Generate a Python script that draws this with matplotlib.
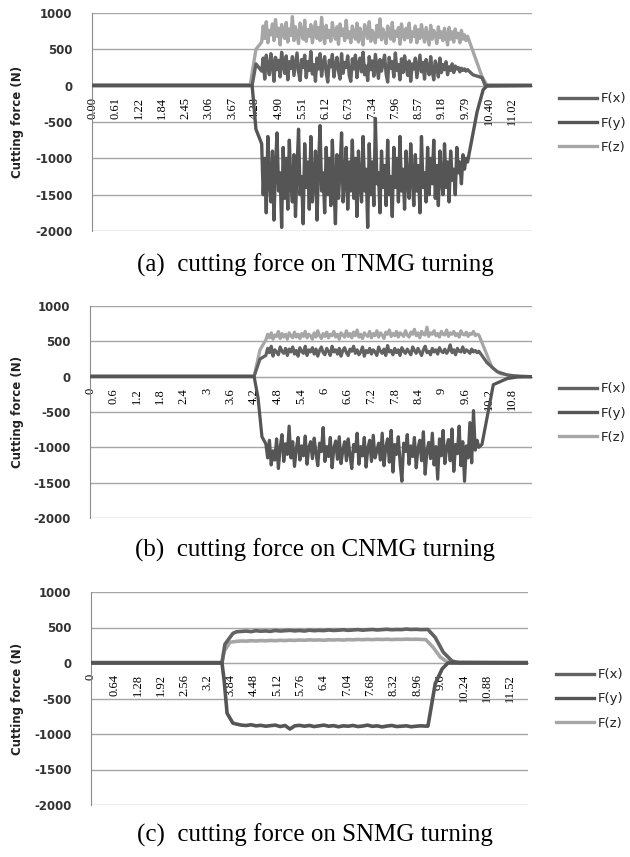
import matplotlib
matplotlib.use("Agg")
import matplotlib.pyplot as plt
import numpy as np

plt.rcParams["axes.unicode_minus"] = False

# ---- data (time in s, force in N) ----
labels_a = ["0.00", "0.61", "1.22", "1.84", "2.45", "3.06", "3.67", "4.28", "4.90", "5.51",
            "6.12", "6.73", "7.34", "7.96", "8.57", "9.18", "9.79", "10.40", "11.02"]
labels_b = ["0", "0.6", "1.2", "1.8", "2.4", "3", "3.6", "4.2", "4.8", "5.4",
            "6", "6.6", "7.2", "7.8", "8.4", "9", "9.6", "10.2", "10.8"]
labels_c = ["0", "0.64", "1.28", "1.92", "2.56", "3.2", "3.84", "4.48", "5.12", "5.76",
            "6.4", "7.04", "7.68", "8.32", "8.96", "9.6", "10.24", "10.88", "11.52"]

# panel (a) TNMG
a_block = (4.45, 9.85)
fx_a_pre_t, fx_a_pre = [0.0, 4.2, 4.3], [5, 5, 300]
fx_a = [200, 380, 90, 420, 260, 150, 440, 310, 60, 390, 220, 350, 120, 460, 280, 170, 410, 80, 330, 240,
        400, 140, 300, 450, 190, 70, 360, 250, 420, 110, 330, 210, 470, 160, 290, 60, 380, 230, 440, 130,
        310, 400, 180, 50, 350, 260, 430, 120, 280, 390, 200, 90, 440, 170, 320, 250, 410, 140, 60, 370,
        230, 420, 110, 300, 380, 190, 460, 150, 270, 70, 400, 220, 340, 130, 430, 260, 100, 360, 200, 310,
        420, 160, 50, 390, 240, 330, 120, 450, 210, 290, 80, 370, 180, 410, 260, 140, 340, 60, 300, 230,
        380, 110, 270, 420, 190, 320, 90, 360, 240, 150, 400, 200, 80, 340, 260, 120, 380, 180, 290, 220,
        330, 150, 260, 210, 300, 180, 270, 230, 250, 190, 240, 210, 230, 200, 220]
fx_a_post_t, fx_a_post = [9.99, 10.23, 10.31, 11.54], [150, 110, 5, 5]

fy_a_pre_t, fy_a_pre = [0.0, 4.2, 4.3], [0, 0, -600]
fy_a = [-800, -1500, -1000, -1750, -700, -1300, -1600, -900, -1850, -1100, -650, -1450, -1200, -1950, -850, -1550, -1000, -1700, -750, -1350,
        -1600, -950, -1800, -1150, -600, -1500, -1250, -1900, -800, -1400, -1050, -1700, -700, -1600, -1300, -900, -1850, -1100, -550, -1450,
        -1200, -1750, -850, -1500, -1000, -1650, -750, -1350, -1900, -950, -1550, -1150, -650, -1600, -1300, -850, -1700, -1050, -1450, -750,
        -1550, -1000, -1800, -900, -1350, -1600, -700, -1450, -1150, -1950, -800, -1500, -1050, -1650, -450, -1350, -1200, -1750, -900, -1400,
        -1100, -1650, -750, -1500, -1250, -1800, -850, -1400, -1000, -1600, -700, -1450, -1150, -1700, -900, -1350, -1550, -800, -1250, -1650,
        -950, -1450, -1100, -1750, -700, -1400, -1200, -1600, -850, -1500, -1000, -1350, -750, -1550, -1100, -1650, -900, -1300, -1500, -800,
        -1400, -1050, -1600, -900, -1300, -1150, -1500, -850, -1200, -1050, -1350, -950, -1150, -1000, -1050]
fy_a_post_t, fy_a_post = [10.1, 10.26, 10.36, 11.54], [-360, -55, -5, 0]

fz_a_pre_t, fz_a_pre = [0.0, 4.15, 4.3], [10, 10, 500]
fz_a = [600, 820, 650, 880, 590, 760, 700, 850, 620, 910, 680, 790, 560, 840, 720, 650, 870, 600, 780, 690,
        950, 620, 810, 700, 580, 860, 740, 640, 900, 610, 770, 680, 840, 590, 730, 880, 650, 800, 620, 940,
        700, 580, 830, 660, 760, 610, 870, 720, 640, 810, 570, 850, 690, 780, 620, 900, 660, 740, 590, 820,
        710, 640, 860, 600, 790, 680, 560, 840, 730, 650, 880, 610, 760, 700, 590, 830, 670, 920, 630, 780,
        690, 580, 820, 740, 640, 870, 610, 750, 680, 800, 570, 850, 700, 630, 790, 660, 860, 600, 740, 680,
        820, 590, 770, 650, 840, 710, 600, 800, 680, 560, 830, 640, 760, 700, 580, 810, 660, 740, 620, 790,
        680, 560, 800, 640, 740, 600, 780, 660, 720, 590, 760, 640, 700, 620, 680]
fz_a_post_t, fz_a_post = [10.23, 10.36, 11.54], [123, 5, 5]

# panel (b) CNMG
b_block = (4.5, 9.95)
fx_b_pre_t, fx_b_pre = [0.0, 4.2, 4.35], [5, 5, 250]
fx_b = [300, 400, 340, 430, 290, 380, 350, 310, 420, 360, 330, 400, 300, 390, 350, 420, 320, 370, 290, 410,
        360, 330, 430, 300, 380, 350, 410, 320, 390, 290, 370, 420, 340, 310, 400, 360, 300, 430, 350, 380,
        320, 400, 290, 370, 410, 340, 300, 390, 360, 430, 330, 380, 310, 350, 420, 290, 370, 340, 400, 320,
        380, 350, 300, 420, 360, 330, 390, 300, 440, 350, 370, 310, 400, 340, 380, 300, 410, 360, 330, 390,
        350, 310, 420, 370, 330, 400, 350, 300, 380, 430, 340, 360, 310, 400, 350, 380, 320, 410, 360, 340,
        390, 330, 370, 450, 340, 380, 310, 400, 360, 350, 420, 340, 380, 360, 330, 390, 350, 370, 340, 360]
fx_b_post_t, fx_b_post = [10.16, 10.42, 10.7, 11.0, 11.31], [197, 70, 20, 5, 0]

fy_b_pre_t, fy_b_pre = [0.0, 4.2, 4.3, 4.4], [0, 0, -300, -850]
fy_b = [-950, -1150, -900, -1250, -1050, -1180, -880, -1300, -1000, -820, -1200, -950, -1100, -700, -1150, -920, -1270, -1020, -860, -1180,
        -980, -1120, -840, -1240, -1000, -920, -1160, -870, -1080, -1260, -940, -1060, -720, -1200, -990, -1130, -860, -1290, -1010, -910,
        -1170, -850, -1230, -1040, -920, -1190, -880, -1110, -1300, -960, -1060, -800, -1240, -990, -1120, -860, -1280, -1010, -900, -1200,
        -830, -1150, -1050, -940, -1180, -800, -1260, -1000, -880, -1210, -760, -1350, -960, -1100, -850, -1220, -1480, -940, -1060, -820,
        -1240, -980, -1130, -860, -1290, -1010, -900, -1190, -780, -1380, -1050, -930, -1160, -800, -1250, -990, -1450, -880, -1120, -760,
        -1230, -1010, -890, -1190, -740, -1340, -960, -1090, -700, -1260, -920, -1480, -980, -1150, -650, -1220, -480, -1040, -900, -1000]
fy_b_post_t, fy_b_post = [10.03, 10.32, 10.67, 10.93, 11.31], [-958, -113, -28, -5, 0]

fz_b_pre_t, fz_b_pre = [0.0, 4.2, 4.35], [10, 10, 380]
fz_b = [520, 600, 550, 620, 530, 590, 570, 640, 540, 610, 560, 600, 530, 620, 580, 550, 630, 560, 600, 540,
        610, 570, 640, 550, 600, 580, 530, 620, 560, 650, 580, 540, 610, 570, 630, 550, 600, 580, 640, 560,
        600, 530, 620, 590, 560, 650, 570, 610, 550, 630, 580, 660, 560, 600, 540, 620, 590, 570, 640, 550,
        610, 580, 650, 560, 620, 590, 540, 630, 600, 660, 570, 610, 580, 640, 560, 620, 600, 570, 650, 590,
        560, 630, 600, 670, 580, 620, 550, 640, 600, 590, 700, 570, 620, 600, 650, 580, 610, 560, 640, 600,
        590, 660, 570, 620, 600, 640, 580, 610, 560, 650, 600, 590, 630, 570, 610, 600, 640, 580, 600, 590]
fz_b_post_t, fz_b_post = [10.29, 10.5, 10.9, 11.31], [127, 42, 8, 0]

# panel (c) SNMG
c_block = (4.0, 9.2)
fx_c_pre_t, fx_c_pre = [0.0, 3.6, 3.68, 3.9], [5, 5, 264, 417]
fx_c = [440, 445, 450, 442, 455, 448, 452, 446, 458, 450, 455, 460, 452, 458, 450, 462, 455, 460,
        456, 465, 458, 462, 468, 460, 465, 470, 462, 468, 472, 465, 470, 475, 468, 472, 470, 478,
        472, 475, 470, 472]
fx_c_post_t, fx_c_post = [9.26, 9.46, 9.68, 9.92, 10.1, 12.01], [472, 361, 153, 28, 5, 5]

fy_c_pre_t, fy_c_pre = [0.0, 3.6, 3.66, 3.74, 3.9], [0, 0, -250, -708, -847]
fy_c = [-860, -875, -880, -870, -885, -878, -890, -882, -875, -895, -880, -930, -885, -878, -890,
        -880, -895, -885, -875, -890, -882, -898, -885, -890, -880, -895, -888, -875, -892, -885,
        -900, -888, -880, -895, -890, -885, -898, -890, -885, -889]
fy_c_post_t, fy_c_post = [9.26, 9.46, 9.65, 9.81, 12.01], [-889, -292, -83, 0, 0]

fz_c_pre_t, fz_c_pre = [0.0, 3.6, 3.66, 3.82], [5, 5, 167, 292]
fz_c = [305, 310, 308, 314, 310, 316, 312, 318, 314, 320, 316, 322, 318, 324, 320, 326, 322, 325,
        320, 327, 324, 328, 323, 330, 326, 332, 328, 333, 329, 334, 331, 335, 330, 334, 332, 336,
        333, 335, 332, 330]
fz_c_post_t, fz_c_post = [9.4, 9.6, 9.79, 12.01], [222, 83, 14, 5]


def series(pre_t, pre_v, block, vals, post_t, post_v):
    t = np.concatenate([pre_t, np.linspace(block[0], block[1], len(vals)), post_t])
    v = np.concatenate([pre_v, vals, post_v])
    return t, v


panels = [
    dict(rect=[92, 13, 532, 231], xmax=11.54, labels=labels_a, lw=2.4,
         caption="(a)  cutting force on TNMG turning",
         fx=series(fx_a_pre_t, fx_a_pre, a_block, fx_a, fx_a_post_t, fx_a_post),
         fy=series(fy_a_pre_t, fy_a_pre, a_block, fy_a, fy_a_post_t, fy_a_post),
         fz=series(fz_a_pre_t, fz_a_pre, a_block, fz_a, fz_a_post_t, fz_a_post),
         leg=(1.061, 0.495), cap_y=265),
    dict(rect=[90, 306, 532, 518], xmax=11.31, labels=labels_b, lw=2.3,
         caption="(b)  cutting force on CNMG turning",
         fx=series(fx_b_pre_t, fx_b_pre, b_block, fx_b, fx_b_post_t, fx_b_post),
         fy=series(fy_b_pre_t, fy_b_pre, b_block, fy_b, fy_b_post_t, fy_b_post),
         fz=series(fz_b_pre_t, fz_b_pre, b_block, fz_b, fz_b_post_t, fz_b_post),
         leg=(1.061, 0.495), cap_y=550),
    dict(rect=[91, 592, 528, 805], xmax=12.01, labels=labels_c, lw=2.6,
         caption="(c)  cutting force on SNMG turning",
         fx=series(fx_c_pre_t, fx_c_pre, c_block, fx_c, fx_c_post_t, fx_c_post),
         fy=series(fy_c_pre_t, fy_c_pre, c_block, fy_c, fy_c_post_t, fy_c_post),
         fz=series(fz_c_pre_t, fz_c_pre, c_block, fz_c, fz_c_post_t, fz_c_post),
         leg=(1.064, 0.498), cap_y=835),
]

W, H = 630, 857
fig = plt.figure(figsize=(W / 100, H / 100), dpi=100)
grid_col = "#a6a6a6"

for p in panels:
    x0, y0, x1, y1 = p["rect"]
    ax = fig.add_axes([x0 / W, (H - y1) / H, (x1 - x0) / W, (y1 - y0) / H])
    ax.plot(*p["fx"], color="#626262", lw=p["lw"], label="F(x)", zorder=3)
    ax.plot(*p["fy"], color="#555555", lw=p["lw"], label="F(y)", zorder=3)
    ax.plot(*p["fz"], color="#a6a6a6", lw=p["lw"], label="F(z)", zorder=2)

    ax.set_xlim(0, p["xmax"])
    ax.set_ylim(-2000, 1000)
    ax.set_yticks(np.arange(-2000, 1001, 500))
    ax.yaxis.grid(True, color=grid_col, lw=1.0)
    ax.set_axisbelow(True)
    for s in ["top", "right"]:
        ax.spines[s].set_visible(False)
    ax.spines["left"].set_color("#8c8c8c")
    ax.spines["bottom"].set_position(("data", 0))
    ax.spines["bottom"].set_color(grid_col)

    ax.set_xticks([float(v) for v in p["labels"]])
    ax.set_xticklabels(p["labels"], rotation=90, family="Liberation Serif", fontsize=9)
    ax.tick_params(axis="x", length=0, pad=8)
    ax.tick_params(axis="y", length=0, pad=14, labelsize=8.5, labelcolor="#333333")
    for lab in ax.get_yticklabels():
        lab.set_fontweight("bold")

    ax.legend(loc="center left", bbox_to_anchor=p["leg"], frameon=False, fontsize=9.5,
              handlelength=2.9, handletextpad=0.25, labelspacing=0.85, borderpad=0,
              borderaxespad=0, labelcolor="#222222")
    for line in ax.get_legend().get_lines():
        line.set_linewidth(2.4)

    fig.text(18 / W, 1 - ((y0 + y1) / 2) / H, "Cutting force (N)", rotation=90,
             ha="center", va="center", fontsize=8.5, fontweight="bold", color="#222222")
    fig.text(315 / W, 1 - p["cap_y"] / H, p["caption"], ha="center", va="center",
             family="Liberation Serif", fontsize=18)

fig.savefig("out.png", dpi=100)
